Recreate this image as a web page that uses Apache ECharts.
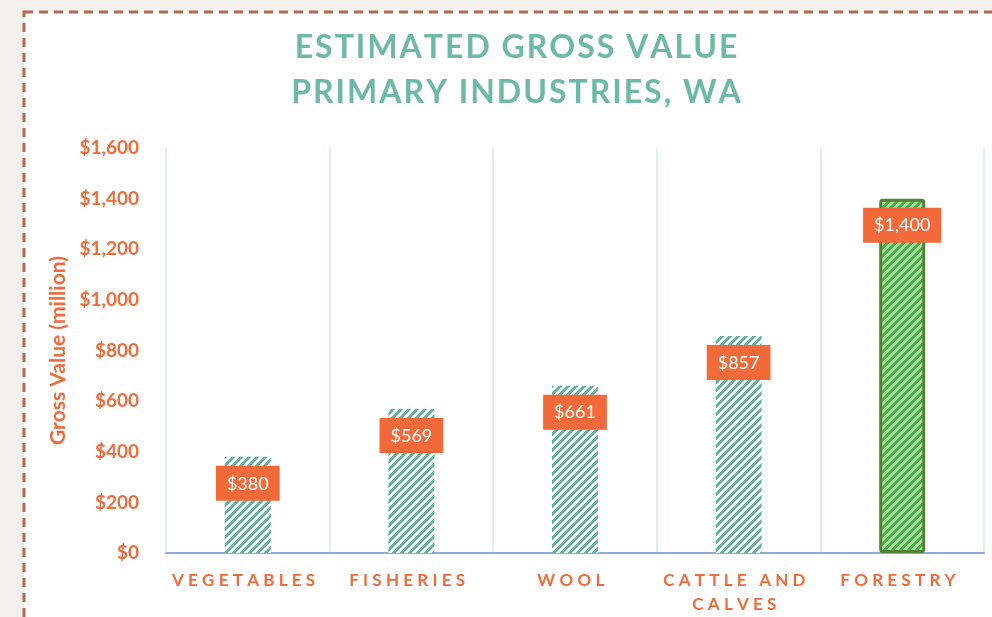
<!DOCTYPE html>
<html>
<head>
<meta charset="utf-8">
<style>
html,body{margin:0;padding:0;background:#f3f0ec;}
#chart{width:992px;height:617px;}
</style>
<script src="https://cdn.jsdelivr.net/npm/echarts@6/dist/echarts.min.js"></script>
</head>
<body>
<div id="chart"></div>
<script>
const categories = ['VEGETABLES', 'FISHERIES', 'WOOL', 'CATTLE AND CALVES', 'FORESTRY'];
const values = [380, 569, 661, 857, 1400];
const highlightCategory = 'FORESTRY';
const titleLines = ['ESTIMATED GROSS VALUE', 'PRIMARY INDUSTRIES, WA'];
const yAxisName = 'Gross Value (million)';

function makePattern(fg, bg) {
  const c = document.createElement('canvas');
  c.width = 8; c.height = 8;
  const ctx = c.getContext('2d');
  ctx.fillStyle = bg; ctx.fillRect(0, 0, 8, 8);
  ctx.fillStyle = fg;
  for (let x = 0; x < 8; x++) for (let y = 0; y < 8; y++) {
    if (((x + y) % 8) < 4) ctx.fillRect(x, y, 1, 1);
  }
  return c;
}
const tealPattern = { image: makePattern('#5fb59e', '#ffffff'), repeat: 'repeat' };
const greenPattern = { image: makePattern('#45b044', '#a9dda2'), repeat: 'repeat' };

function spaced(s, gap, wordGap) {
  return s.split(' ').map(w => w.split('').join(gap)).join(wordGap);
}
function wrapWords(s, maxLen) {
  const words = s.split(' ');
  const lines = []; let cur = '';
  words.forEach(w => {
    if (cur && (cur + ' ' + w).length > maxLen) { lines.push(cur); cur = w; }
    else cur = cur ? cur + ' ' + w : w;
  });
  if (cur) lines.push(cur);
  return lines;
}
function money(v) { return '$' + v.toLocaleString('en-US'); }

const chart = echarts.init(document.getElementById('chart'));
const orange = '#f26a3a';
chart.setOption({
  backgroundColor: '#f3f0ec',
  animation: false,
  graphic: [{
    type: 'rect', z: -10, silent: true,
    shape: { x: 24, y: 12, width: 1100, height: 800 },
    style: { fill: '#ffffff', stroke: '#b06a52', lineWidth: 3, lineDash: [9, 6] }
  }],
  title: {
    text: titleLines.map(l => spaced(l, '\u200A', '\u200A \u200A')).join('\n'),
    left: 511, top: 20, textAlign: 'center',
    textStyle: { fontFamily: 'Lato', fontWeight: 'bold', fontSize: 32, color: '#6bb9a6', lineHeight: 45 }
  },
  grid: { left: 166, right: 8, top: 148, bottom: 64 },
  xAxis: {
    type: 'category',
    data: categories,
    axisLine: { lineStyle: { color: '#8eaadc', width: 2 } },
    axisTick: { show: false },
    splitLine: { show: true, lineStyle: { color: '#dcefe9', width: 2 } },
    axisLabel: {
      interval: 0, margin: 16,
      color: orange, fontFamily: 'Lato', fontWeight: 'bold', fontSize: 17, lineHeight: 24,
      formatter: v => wrapWords(v, 10).map(l => spaced(l, '\u2005', '\u2005 \u2005') + '\u2005\u2005').join('\n')
    }
  },
  yAxis: {
    type: 'value', min: 0, max: 1600, interval: 200,
    name: yAxisName, nameLocation: 'middle', nameGap: 96, nameRotate: 90,
    nameTextStyle: { color: orange, fontFamily: 'Lato', fontWeight: 'bold', fontSize: 21 },
    axisLine: { show: false }, axisTick: { show: false },
    splitLine: { show: false },
    axisLabel: { color: orange, fontFamily: 'Lato', fontWeight: 'bold', fontSize: 19, margin: 27, formatter: v => money(v) }
  },
  series: [{
    type: 'bar',
    barWidth: 46,
    data: values.map((v, i) => categories[i] === highlightCategory
      ? { value: v, itemStyle: { color: greenPattern, borderColor: '#548235', borderWidth: 3, borderRadius: 2 } }
      : { value: v, itemStyle: { color: tealPattern } }),
    label: {
      show: true, position: 'insideTop', distance: 9,
      formatter: p => money(p.value),
      backgroundColor: orange, color: '#ffffff',
      fontFamily: 'Lato', fontSize: 18, padding: [9, 11, 8, 11]
    }
  }]
});
</script>
</body>
</html>
